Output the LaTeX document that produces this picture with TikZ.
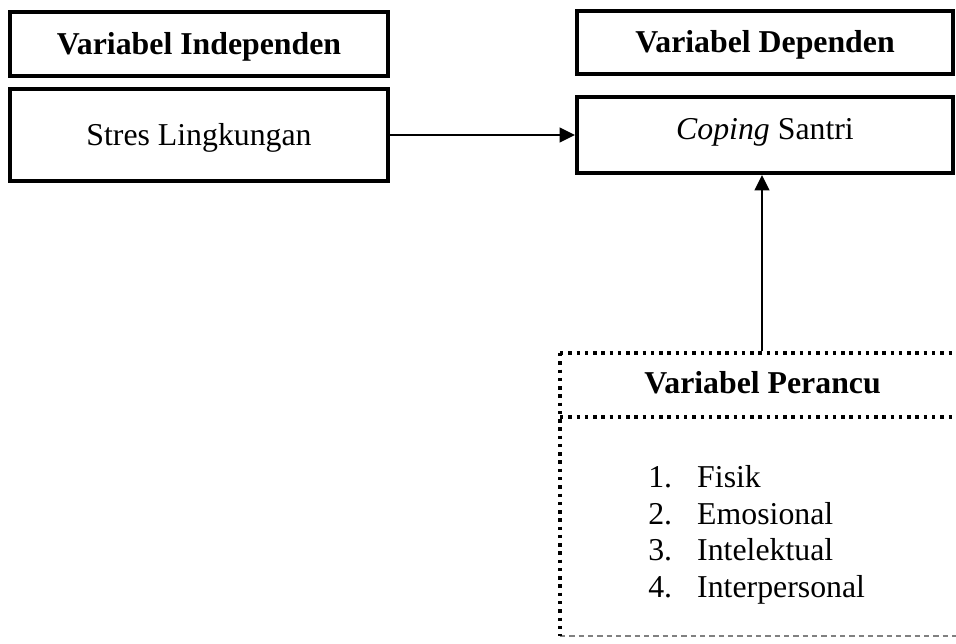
\documentclass[tikz,border=0pt]{standalone}
\usepackage{fontspec}
\setmainfont{Liberation Serif}
\usetikzlibrary{arrows.meta}
\tikzset{
  box/.style={draw, line width=3pt, rectangle, inner sep=0pt, text depth=0pt,
    font=\fontsize{23.85}{27.5}\selectfont},
  txt/.style={inner sep=0pt, font=\fontsize{23.85}{27.5}\selectfont},
  arr/.style={line width=1.3pt, -{Triangle[length=11.5pt,width=11pt]}},
  dotline/.style={line width=2.4pt, dash pattern=on 2.6pt off 3.6pt},
  greydash/.style={line width=0.8pt, gray, dash pattern=on 4pt off 3pt}
}
\begin{document}
\begin{tikzpicture}[x=0.75pt,y=-0.75pt]
\useasboundingbox (0,0) rectangle (956,643);
% top-left
\node[box, minimum width=283.5pt, minimum height=48pt, text height=15pt] (vi) at (199,44) {\bfseries Variabel Independen};
\node[box, minimum width=283.5pt, minimum height=69pt, text height=15pt] (sl) at (199,135) {Stres Lingkungan};
% top-right
\node[box, minimum width=282pt, minimum height=47.25pt, text height=14.25pt] (vd) at (765,42.5) {\bfseries Variabel Dependen};
\node[box, minimum width=282pt, minimum height=57pt, text height=6pt] (cs) at (765,135) {\itshape Coping\upshape{} Santri};
% dotted box
\coordinate (tl) at (560,353);
\coordinate (tr) at (956,353);
\coordinate (ml) at (560,417);
\coordinate (mr) at (956,417);
\coordinate (bl) at (560,636);
\coordinate (br) at (956,636);
\draw[greydash] (bl) -- (br);
\draw[dotline] (tl) -- (tr);
\draw[dotline] (ml) -- (mr);
\draw[dotline] (tl) -- (bl);
\node[txt, anchor=base] (vp) at (762.5,393) {\bfseries Variabel Perancu};
\node[txt, anchor=base west] (i1) at (648,487) {\makebox[36.75pt][l]{1.}Fisik};
\node[txt, anchor=base west] (i2) at (648,524) {\makebox[36.75pt][l]{2.}Emosional};
\node[txt, anchor=base west] (i3) at (648,560.5) {\makebox[36.75pt][l]{3.}Intelektual};
\node[txt, anchor=base west] (i4) at (648,597) {\makebox[36.75pt][l]{4.}Interpersonal};
% connectors
\coordinate (ptop) at (762,351);
\draw[arr] (sl.east) -- (cs.west);
\draw[arr] (ptop) -- (ptop |- cs.south);
\end{tikzpicture}
\end{document}
